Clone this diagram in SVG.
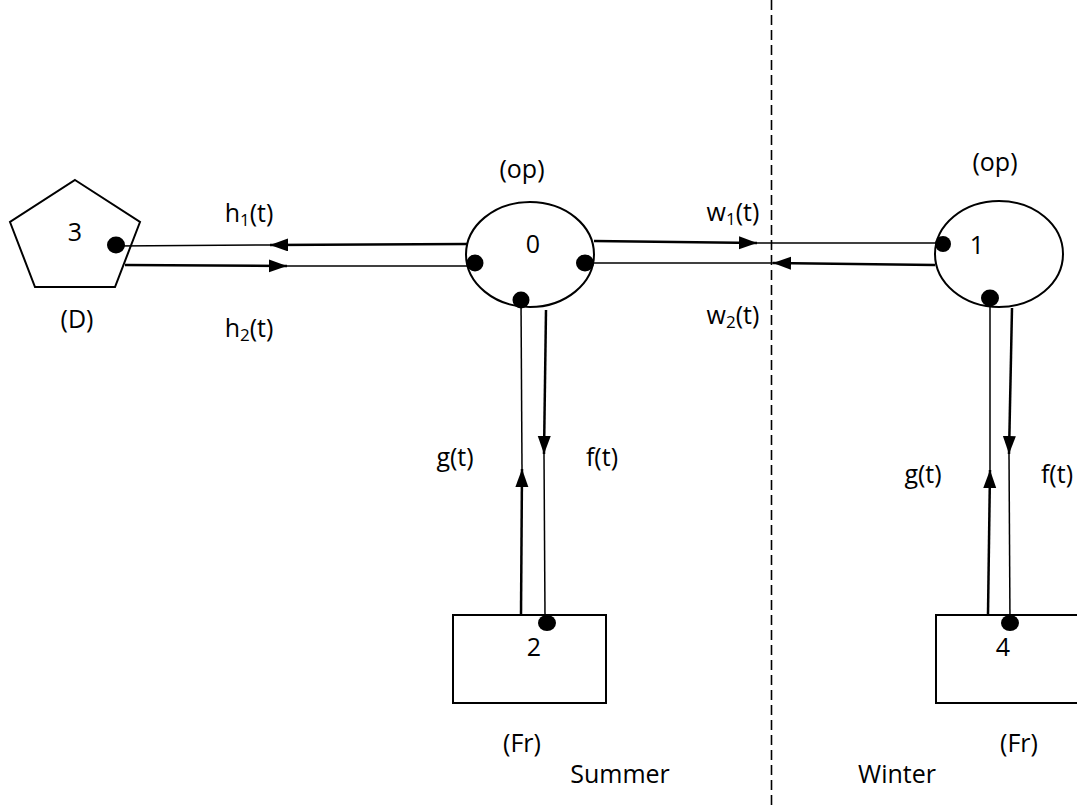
<svg xmlns="http://www.w3.org/2000/svg" width="1077" height="809" viewBox="0 0 1077 809">
<style>
text{font-family:"Open Sans","Liberation Sans",sans-serif;font-size:25px;fill:#000;text-anchor:middle}
.sub{font-size:17px}
.shape{fill:#fff;stroke:#000;stroke-width:2}
.dot{fill:#000}
.thin{stroke:#000;stroke-width:1.5;fill:none}
.thick{stroke:#000;stroke-width:2.5;fill:none}
.dash{stroke:#000;stroke-width:1.6;stroke-dasharray:10,5;fill:none}
</style>
<defs>
<marker id="arr" markerUnits="userSpaceOnUse" markerWidth="19" markerHeight="14" refX="18" refY="6.5" orient="auto">
<path d="M0,0 L18,6.5 L0,13 z" fill="#000"/>
</marker>
</defs>
<rect width="1077" height="809" fill="#fff"/>
<line class="dash" x1="771.5" y1="0" x2="771.5" y2="809"/>
<g id="node3">
<polygon class="shape" points="75,180 140,222 115,287 35,287 10,222"/>
<text x="75" y="241">3</text>
<text x="77" y="328">(D)</text>
</g>
<g id="node0">
<ellipse class="shape" cx="530" cy="254.5" rx="64" ry="52.5"/>
<text x="533" y="253">0</text>
<text x="522" y="178">(op)</text>
</g>
<g id="node1">
<ellipse class="shape" cx="999" cy="254" rx="64" ry="53"/>
<text x="977" y="254">1</text>
<text x="995" y="171">(op)</text>
</g>
<g id="node2">
<rect class="shape" x="453" y="615" width="153" height="88"/>
<text x="534" y="656">2</text>
<text x="522" y="752">(Fr)</text>
</g>
<g id="node4">
<rect class="shape" x="936" y="615" width="153" height="88"/>
<text x="1003" y="656">4</text>
<text x="1019" y="752">(Fr)</text>
</g>
<g id="connectors">
<line class="thick" x1="467" y1="244" x2="270" y2="245" marker-end="url(#arr)"/>
<line class="thin" x1="270" y1="245" x2="116" y2="246"/>
<line class="thick" x1="125" y1="265" x2="287" y2="266" marker-end="url(#arr)"/>
<line class="thin" x1="287" y1="266" x2="475" y2="266"/>
<line class="thick" x1="594" y1="241" x2="757" y2="243" marker-end="url(#arr)"/>
<line class="thin" x1="757" y1="243" x2="943" y2="243"/>
<line class="thick" x1="935" y1="265" x2="773" y2="263" marker-end="url(#arr)"/>
<line class="thin" x1="773" y1="263" x2="584" y2="263"/>
<line class="thin" x1="521" y1="300" x2="522" y2="469"/>
<line class="thick" x1="521" y1="615" x2="522" y2="469" marker-end="url(#arr)"/>
<line class="thick" x1="546" y1="310" x2="544" y2="454" marker-end="url(#arr)"/>
<line class="thin" x1="544" y1="454" x2="545" y2="615"/>
<line class="thin" x1="990" y1="298" x2="990" y2="470"/>
<line class="thick" x1="988" y1="615" x2="990" y2="470" marker-end="url(#arr)"/>
<line class="thick" x1="1012" y1="308" x2="1009" y2="454" marker-end="url(#arr)"/>
<line class="thin" x1="1009" y1="454" x2="1010" y2="623"/>
<ellipse class="dot" cx="116" cy="245" rx="9" ry="8.5"/>
<ellipse class="dot" cx="475" cy="263" rx="8.5" ry="8.5"/>
<ellipse class="dot" cx="585" cy="263" rx="9" ry="8.5"/>
<ellipse class="dot" cx="521" cy="300" rx="8.5" ry="8.5"/>
<ellipse class="dot" cx="943" cy="244" rx="8" ry="8"/>
<ellipse class="dot" cx="990" cy="298" rx="9" ry="8.5"/>
<ellipse class="dot" cx="547" cy="623" rx="9" ry="8"/>
<ellipse class="dot" cx="1010" cy="623" rx="9" ry="8"/>
</g>
<g id="labels">
<text x="249" y="222">h<tspan class="sub" dy="4">1</tspan><tspan dy="-4">(t)</tspan></text>
<text x="249" y="337">h<tspan class="sub" dy="4">2</tspan><tspan dy="-4">(t)</tspan></text>
<text x="733" y="221">w<tspan class="sub" dy="4">1</tspan><tspan dy="-4">(t)</tspan></text>
<text x="733" y="324">w<tspan class="sub" dy="4">2</tspan><tspan dy="-4">(t)</tspan></text>
<text x="455" y="466">g(t)</text>
<text x="602" y="466">f(t)</text>
<text x="923" y="483">g(t)</text>
<text x="1057" y="483">f(t)</text>
<text x="620" y="783">Summer</text>
<text x="897" y="783">Winter</text>
</g>
</svg>
